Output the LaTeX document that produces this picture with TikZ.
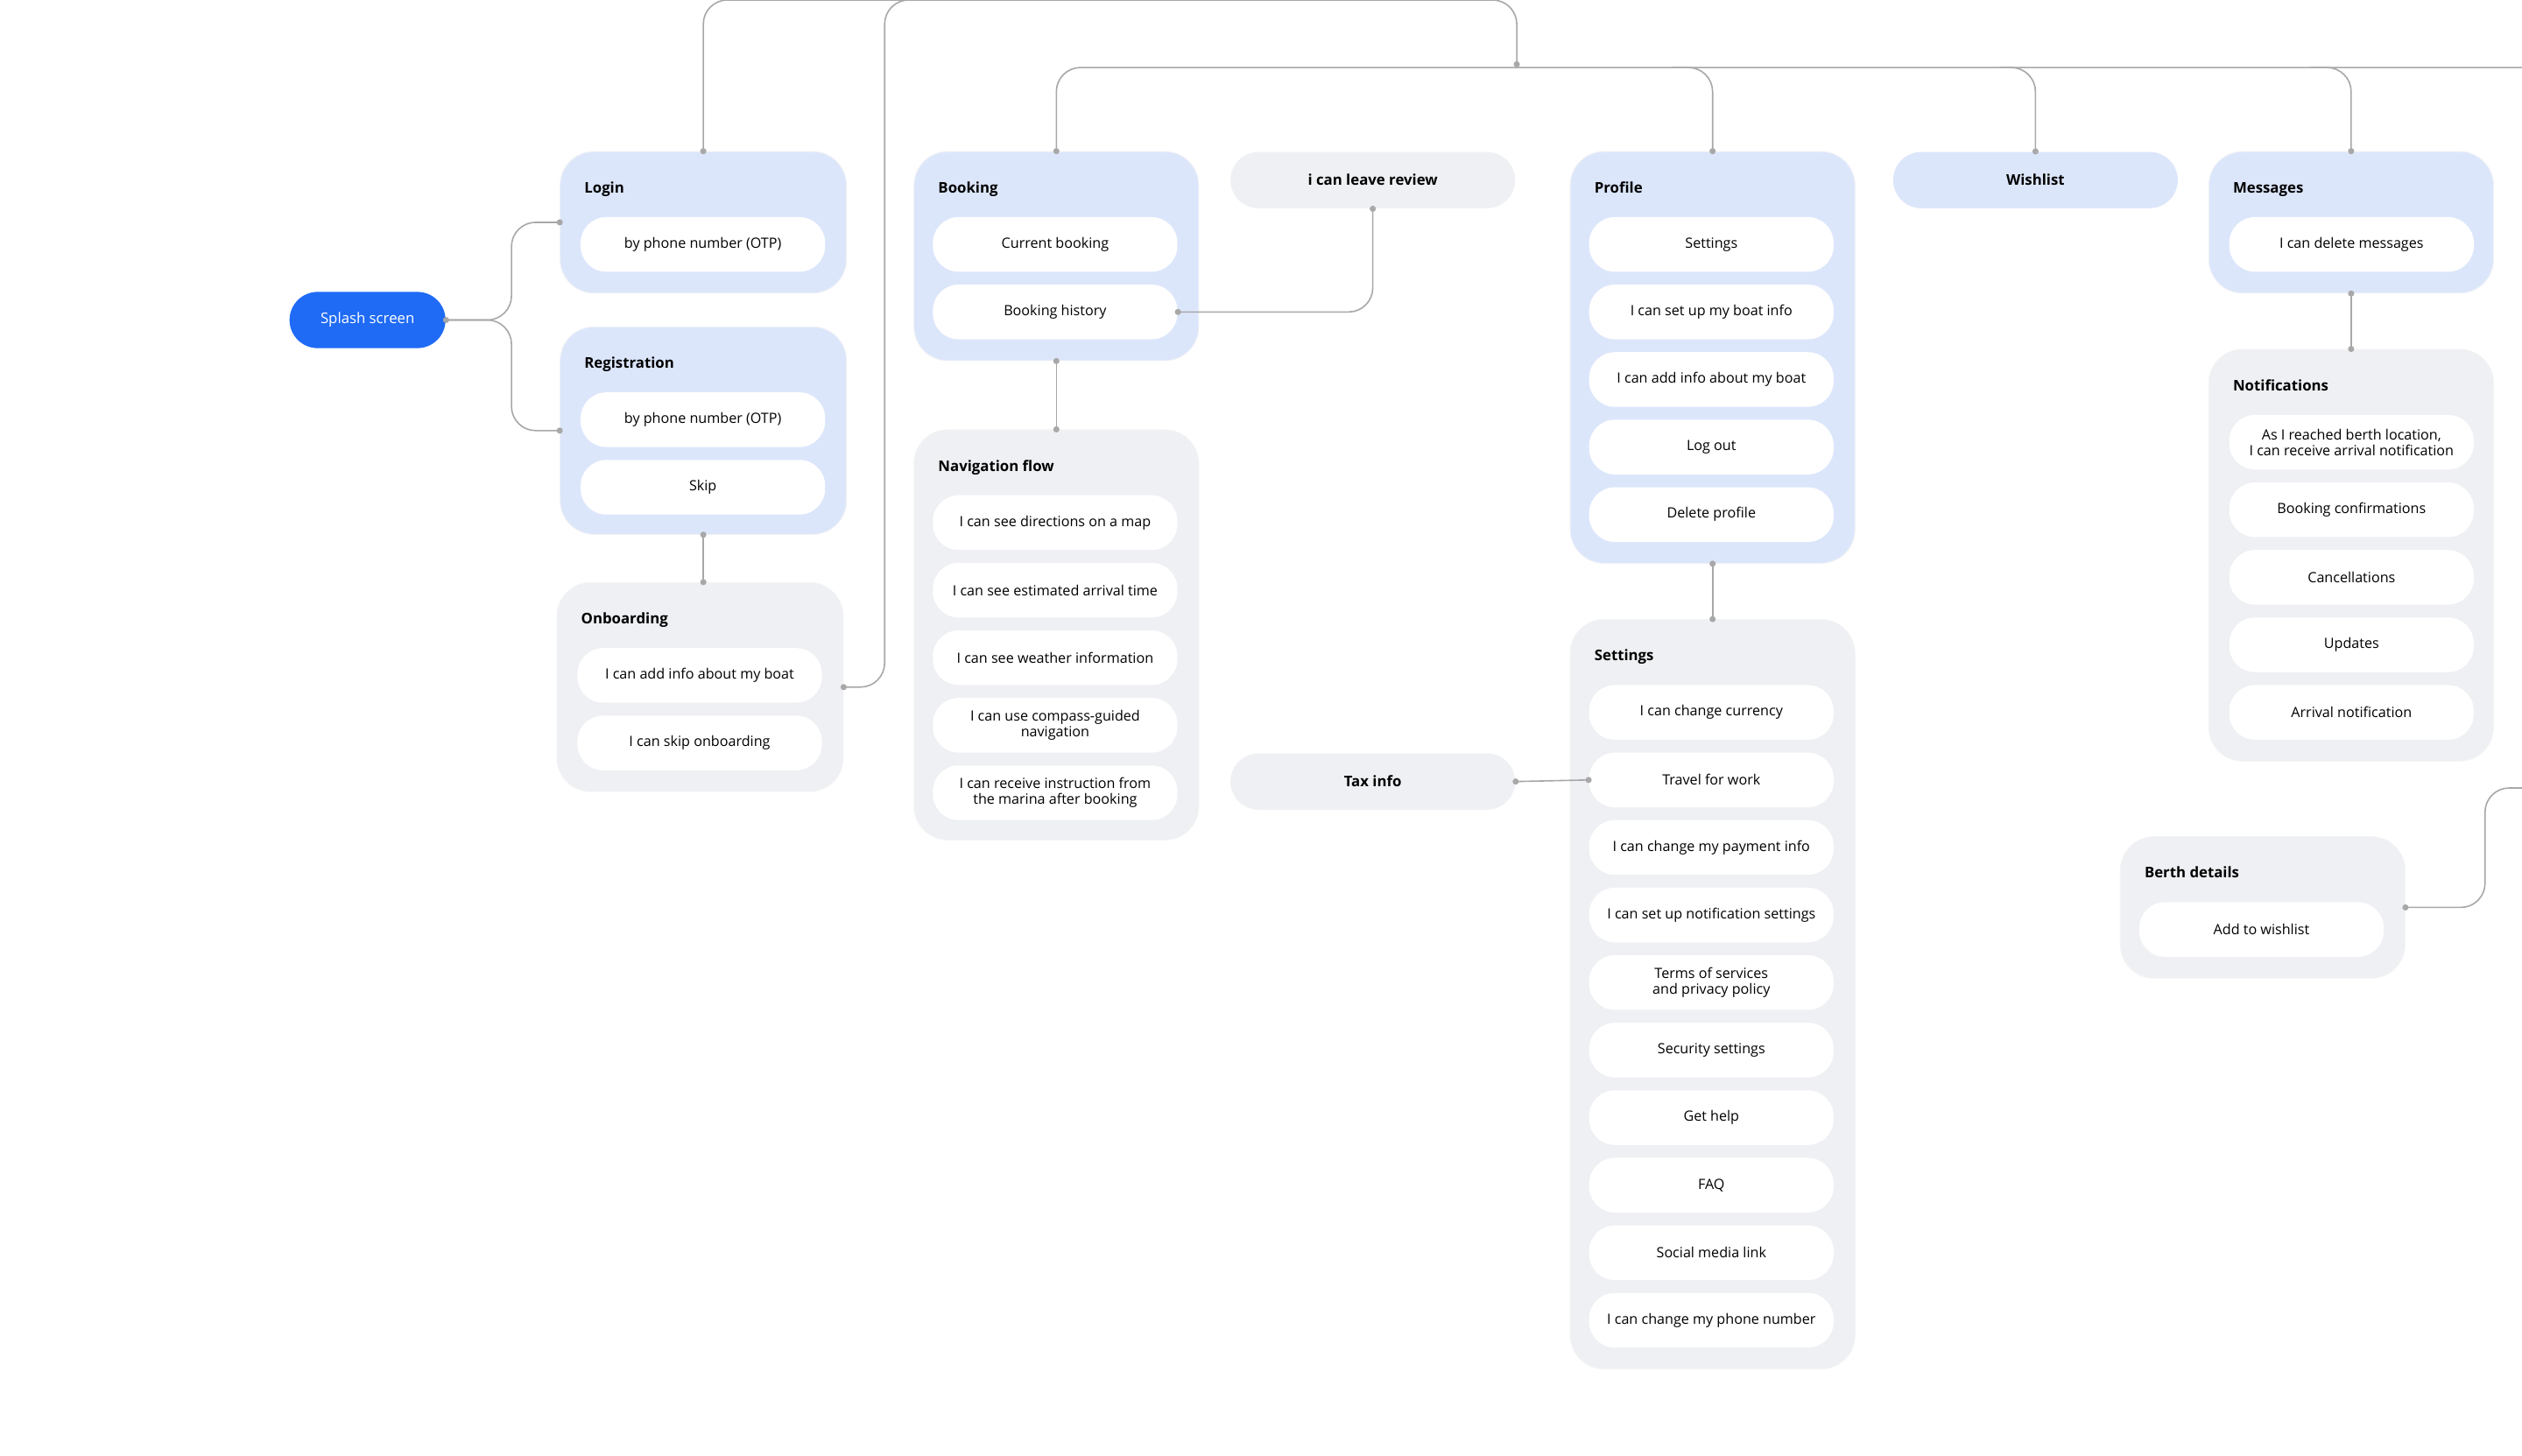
\documentclass[tikz,border=0pt]{standalone}
\usepackage{fontspec}
\setmainfont{Open Sans}
\definecolor{gblue}{HTML}{DCE6FB}
\definecolor{ggray}{HTML}{EEF0F3}
\definecolor{sblue}{HTML}{1F6BF5}
\definecolor{lnc}{HTML}{A8A8A8}
\tikzset{
  grp/.style={draw=#1!80!gray!30,line width=0.3pt,fill=#1,rounded corners=0.42cm,inner sep=0pt},
  ttl/.style={font=\fontsize{5.2}{6}\selectfont\bfseries,inner sep=0pt},
  itm/.style={fill=white,rounded corners=0.32cm,minimum width=3.04cm,minimum height=0.68cm,align=center,font=\fontsize{5}{5.6}\selectfont,inner sep=1pt},
  pill/.style={rounded corners=0.35cm,minimum width=3.54cm,minimum height=0.70cm,align=center,font=\fontsize{5.2}{6}\selectfont\bfseries,inner sep=1pt},
  conn/.style={draw=lnc,line width=0.5pt,rounded corners=0.3cm},
}
\newcommand{\grp}[7]{\node[grp=#6,minimum width=#4*0.02cm,minimum height=#5*0.02cm,anchor=north west] (#1) at (#2,#3) {};
  \node[ttl,anchor=base west] (#1-t) at (#2+15,#3+26) {#7};}
\newcommand{\itm}[4]{\node[itm] (#1) at (#2,#3) {#4};}
\newcommand{\dt}[1]{\fill[lnc] (#1) circle (1.1pt);}
\begin{document}
\begin{tikzpicture}[x=0.02cm,y=-0.02cm]
\useasboundingbox[fill=white] (0,0) rectangle (1568,905);
% splash
\node[pill,fill=sblue,text=white,minimum width=1.94cm,font=\fontsize{5.2}{6}\selectfont] (splash) at (228.5,199) {Splash screen};
% login
\grp{login}{348}{94}{178}{88}{gblue}{Login}
\itm{l1}{437}{152}{by phone number (OTP)}
\grp{reg}{348}{203}{178}{129}{gblue}{Registration}
\itm{r1}{437}{261}{by phone number (OTP)}
\itm{r2}{437}{303}{Skip}
\grp{onb}{346}{362}{178}{130}{ggray}{Onboarding}
\itm{o1}{435}{420}{I can add info about my boat}
\itm{o2}{435}{462}{I can skip onboarding}
% booking
\grp{book}{568}{94}{177}{130}{gblue}{Booking}
\itm{b1}{656}{152}{Current booking}
\itm{b2}{656}{194}{Booking history}
\grp{nav}{568}{267}{177}{255}{ggray}{Navigation flow}
\itm{n1}{656}{325}{I can see directions on a map}
\itm{n2}{656}{367}{I can see estimated arrival time}
\itm{n3}{656}{409}{I can see weather information}
\itm{n4}{656}{451}{I can use compass-guided\\navigation}
\itm{n5}{656}{493}{I can receive instruction from\\the marina after booking}
\node[pill,fill=ggray] (review) at (853.5,112) {i can leave review};
\node[pill,fill=ggray] (tax) at (853.5,486) {Tax info};
% profile
\grp{prof}{976}{94}{177}{256}{gblue}{Profile}
\itm{p1}{1064}{152}{Settings}
\itm{p2}{1064}{194}{I can set up my boat info}
\itm{p3}{1064}{236}{I can add info about my boat}
\itm{p4}{1064}{278}{Log out}
\itm{p5}{1064}{320}{Delete profile}
\grp{set}{976}{385}{177}{466}{ggray}{Settings}
\itm{s1}{1064}{443}{I can change currency}
\itm{s2}{1064}{485}{Travel for work}
\itm{s3}{1064}{527}{I can change my payment info}
\itm{s4}{1064}{569}{I can set up notification settings}
\itm{s5}{1064}{611}{Terms of services\\and privacy policy}
\itm{s6}{1064}{653}{Security settings}
\itm{s7}{1064}{695}{Get help}
\itm{s8}{1064}{737}{FAQ}
\itm{s9}{1064}{779}{Social media link}
\itm{s10}{1064}{821}{I can change my phone number}
% wishlist, messages
\node[pill,fill=gblue] (wish) at (1265.5,112) {Wishlist};
\grp{msg}{1373}{94}{177}{88}{gblue}{Messages}
\itm{m1}{1462}{152}{I can delete messages}
\grp{notif}{1373}{217}{177}{256}{ggray}{Notifications}
\itm{t1}{1462}{275}{As I reached berth location,\\I can receive arrival notification}
\itm{t2}{1462}{317}{Booking confirmations}
\itm{t3}{1462}{359}{Cancellations}
\itm{t4}{1462}{401}{Updates}
\itm{t5}{1462}{443}{Arrival notification}
\grp{berth}{1318}{520}{177}{88}{ggray}{Berth details}
\itm{bd1}{1406}{578}{Add to wishlist}
% connectors
\coordinate (hub) at (943,40);
\draw[conn] (splash.east) -| ([xshift=-0.6cm]login.west) -- (login.west);
\draw[conn] (splash.east) -| ([xshift=-0.6cm]reg.west) -- (reg.west);
\draw[conn] (login.north) |- (943,0) -- (hub);
\draw[conn] (onb.east) -| (550,0) -- (600,0);
\draw[conn] (reg.south) -- (onb.north -| reg.south);
\draw[conn] (book.north) |- (1568,42);
\draw[conn] (1040,42) -| (prof.north);
\draw[conn] (1243,42) -| (wish.north);
\draw[conn] (1436,42) -| (msg.north);
\draw[conn] (b2.east) -| (review.south);
\draw[conn] (book.south) -- (nav.north);
\draw[conn] (prof.south) -- (set.north);
\draw[conn] (msg.south) -- (notif.north);
\draw[conn] (tax.east) -- (s2.west);
\draw[conn] (berth.east) -| (1545,490) -- (1568,490);
\foreach \p in {splash.east,login.west,reg.west,login.north,hub,onb.east,reg.south,onb.north-|reg.south,book.north,prof.north,wish.north,msg.north,b2.east,review.south,book.south,nav.north,prof.south,set.north,msg.south,notif.north,tax.east,s2.west,berth.east}{\dt{\p}}
\end{tikzpicture}
\end{document}
